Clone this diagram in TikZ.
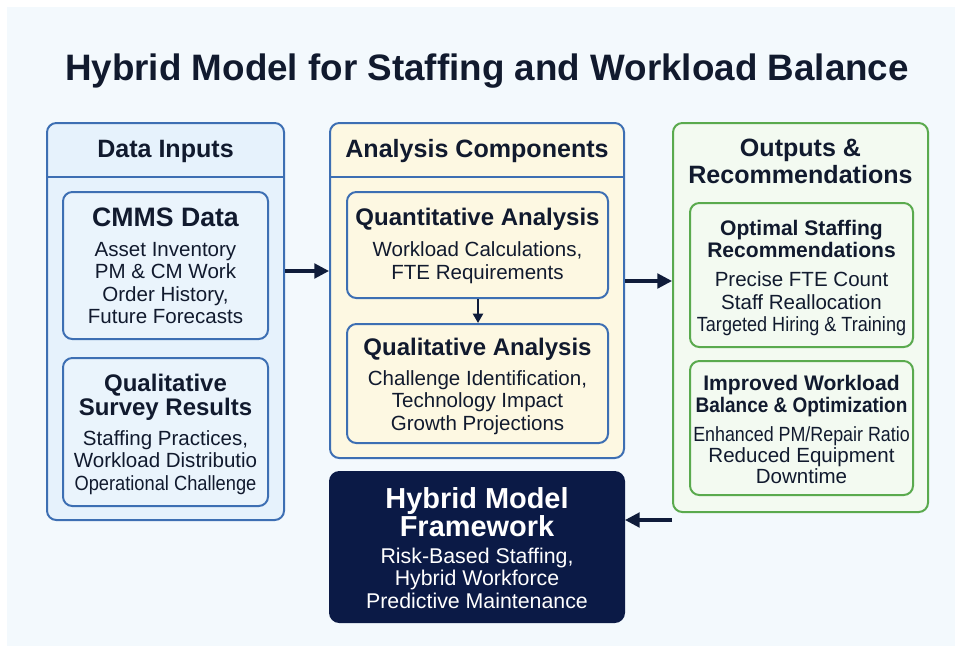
\documentclass[tikz,border=0pt]{standalone}
\usepackage{fontspec}
\usepackage{graphicx}
\setmainfont{Liberation Sans}
\usetikzlibrary{arrows.meta,fit}

\definecolor{ink}{HTML}{111A2E}
\definecolor{pagebg}{HTML}{F3F9FD}
\definecolor{bluefill}{HTML}{E6F2FC}
\definecolor{blueedge}{HTML}{3D6FB3}
\definecolor{creamfill}{HTML}{FDF8E2}
\definecolor{greenfill}{HTML}{F3FAF1}
\definecolor{greenedge}{HTML}{5AAA4E}
\definecolor{navy}{HTML}{0B1A46}
\definecolor{arrowink}{HTML}{0F1C3A}

% squeeze a line horizontally
\newcommand\squeeze[2]{\scalebox{#1}[1]{#2}}

% stack of centred lines: name, x, first baseline, step, style, lines
\newcommand\putlines[6]{%
  \foreach \ln [count=\i] in {#6}
    \node[#5] (#1-\i) at (#2, {#3+(\i-1)*#4}) {\ln};
}

\tikzset{
  txt/.style={inner sep=0pt, anchor=base, text=ink},
  maintitle/.style={txt, font=\fontsize{27.6}{30}\bfseries\selectfont},
  headtxt/.style={txt, font=\fontsize{18.8}{22}\bfseries\selectfont},
  boxtitle/.style={txt, font=\fontsize{18}{21}\bfseries\selectfont},
  smalltitle/.style={txt, font=\fontsize{15.8}{19}\bfseries\selectfont},
  bodytxt/.style={txt, font=\fontsize{15.4}{18}\selectfont},
  darktitle/.style={txt, text=white, font=\fontsize{21.7}{25}\bfseries\selectfont},
  darkbody/.style={txt, text=white, font=\fontsize{16}{19}\selectfont},
  panel/.style={inner sep=0pt, rounded corners=7pt, line width=1.5pt},
  bluepanel/.style={panel, draw=blueedge, fill=bluefill},
  creampanel/.style={panel, draw=blueedge, fill=creamfill},
  greenpanel/.style={panel, draw=greenedge, fill=greenfill},
  bluebox/.style={bluepanel, fill=bluefill!70!pagebg},
  creambox/.style={creampanel},
  greenbox/.style={greenpanel},
  darkbox/.style={panel, draw=navy, fill=navy},
  flow/.style={draw=arrowink, line width=2.3pt,
    -{Triangle[length=11pt,width=11pt]}},
  smallflow/.style={draw=arrowink, line width=1.6pt,
    -{Triangle[length=7pt,width=7.5pt]}},
}

\begin{document}
\begin{tikzpicture}[x=0.75pt,y=-0.75pt]
  \useasboundingbox (0,0) rectangle (955,646);
  \fill[pagebg] (7,7) rectangle (955,646);

  % heading
  \node[maintitle] (title) at (487,80) {Hybrid Model for Staffing and Workload Balance};

  % ---- column 1: data inputs
  \node[bluepanel, fit={(47,123) (284,520)}] (inputs) {};
  \draw[blueedge, line width=1.5pt] (47,177) -- (284,177);
  \node[headtxt] (inputs-head) at (165.5,157.5) {Data Inputs};

  \node[bluebox, fit={(63,192) (268,339)}] (cmms) {};
  \node[txt, font=\fontsize{20}{23}\bfseries\selectfont] (cmms-title) at (165.5,226.5) {CMMS Data};
  \putlines{cmms}{165.5}{256.5}{22.4}{bodytxt}{Asset Inventory, PM \& CM Work, {Order History,}, Future Forecasts}

  \node[bluebox, fit={(63,358) (268,506)}] (survey) {};
  \putlines{survey-t}{165.5}{391.7}{23.3}{boxtitle}{Qualitative, Survey Results}
  \putlines{survey}{165.5}{445}{22.5}{bodytxt}{{Staffing Practices,}, Workload Distributio, \squeeze{0.89}{Operational Challenge}}

  % ---- column 2: analysis
  \node[creampanel, fit={(330,123) (624,458)}] (analysis) {};
  \draw[blueedge, line width=1.5pt] (330,177) -- (624,177);
  \node[headtxt] (analysis-head) at (477,157.7) {Analysis Components};

  \node[creambox, fit={(347,192) (608,298)}] (quant) {};
  \node[boxtitle] (quant-title) at (477.5,225) {Quantitative Analysis};
  \putlines{quant}{477.5}{256.7}{22.3}{bodytxt}{{Workload Calculations,}, FTE Requirements}

  \node[creambox, fit={(347,324) (608,443)}] (qual) {};
  \node[boxtitle] (qual-title) at (477.5,355) {Qualitative Analysis};
  \putlines{qual}{477.5}{385}{22.5}{bodytxt}{{Challenge Identification,}, Technology Impact, Growth Projections}

  % ---- column 3: outputs
  \node[greenpanel, fit={(673,123) (928,512)}] (outputs) {};
  \putlines{outputs-head}{800.5}{156.7}{26.6}{headtxt}{Outputs \&, Recommendations}

  \node[greenbox, fit={(690,203) (913,347)}] (staff) {};
  \putlines{staff-t}{801.5}{235}{22.7}{smalltitle}{Optimal Staffing, Recommendations}
  \putlines{staff}{801.5}{286.7}{22.5}{bodytxt}{Precise FTE Count, Staff Reallocation, \squeeze{0.88}{Targeted Hiring \& Training}}

  \node[greenbox, fit={(690,361) (913,495)}] (balance) {};
  \putlines{balance-t}{801.5}{390}{22.7}{smalltitle}{Improved Workload, \squeeze{0.9}{Balance \& Optimization}}
  \putlines{balance}{801.5}{441.5}{21}{bodytxt}{\squeeze{0.87}{Enhanced PM/Repair Ratio}, Reduced Equipment, Downtime}

  % ---- framework
  \node[darkbox, fit={(330,472) (624,622)}] (framework) {};
  \putlines{framework-t}{477}{508.3}{28.4}{darktitle}{Hybrid Model, Framework}
  \putlines{framework}{477}{563.3}{22.5}{darkbody}{{Risk-Based Staffing,}, Hybrid Workforce, Predictive Maintenance}

  % ---- connectors
  \coordinate (row1) at (0,271);
  \coordinate (row2) at (0,281);
  \coordinate (row3) at (0,520);
  \draw[flow] (inputs.east |- row1) -- (analysis.west |- row1);
  \draw[flow] (analysis.east |- row2) -- (outputs.west |- row2);
  \draw[smallflow] (quant.south -| 478,0) -- (qual.north -| 478,0);
  \coordinate (fback) at (outputs.west |- row3);
  \draw[flow] (fback) -- (framework.east |- row3);
\end{tikzpicture}
\end{document}
